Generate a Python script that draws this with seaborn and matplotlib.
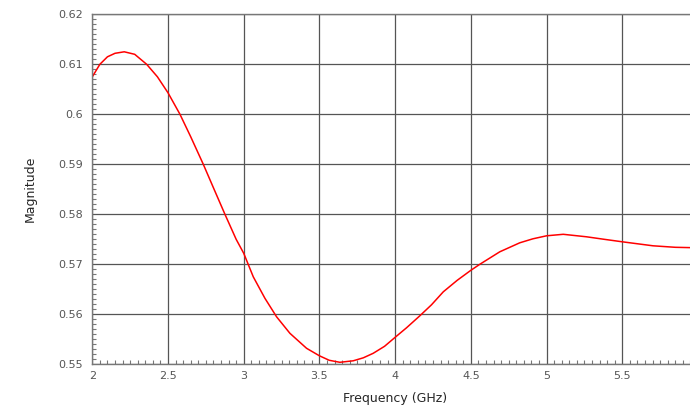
import seaborn as sns
import pandas as pd
import matplotlib.pyplot as plt
from matplotlib.ticker import MultipleLocator

# 주파수(GHz)와 크기(Magnitude) 값 - 그림에서 읽은 값
freq = [2.00, 2.05, 2.10, 2.15, 2.211, 2.28, 2.359, 2.43, 2.50, 2.579,
        2.65, 2.733, 2.80, 2.876, 2.95, 3.00, 3.063, 3.14, 3.217, 3.305,
        3.415, 3.50, 3.565, 3.635, 3.723, 3.79, 3.855, 3.93, 4.00, 4.075,
        4.163, 4.24, 4.318, 4.41, 4.50, 4.559, 4.691, 4.823, 4.91, 5.00,
        5.11, 5.264, 5.38, 5.50, 5.703, 5.85, 6.00]
magnitude = [0.6075, 0.6100, 0.6115, 0.6122, 0.6125, 0.6120, 0.6100, 0.6075, 0.6043, 0.6000,
             0.5955, 0.5900, 0.5853, 0.5800, 0.5750, 0.5722, 0.5675, 0.5632, 0.5595, 0.5562,
             0.5532, 0.5517, 0.5508, 0.5504, 0.5507, 0.5513, 0.5522, 0.5536, 0.5554, 0.5573,
             0.5597, 0.5619, 0.5645, 0.5668, 0.5688, 0.5700, 0.5725, 0.5743, 0.5751, 0.5757,
             0.5760, 0.5755, 0.5750, 0.5745, 0.5737, 0.5734, 0.5733]

x_ticks = [2, 2.5, 3, 3.5, 4, 4.5, 5, 5.5, 6]
x_labels = ['2', '2.5', '3', '3.5', '4', '4.5', '5', '5.5', '6']
y_ticks = [0.55, 0.56, 0.57, 0.58, 0.59, 0.6, 0.61, 0.62]
y_labels = ['0.55', '0.56', '0.57', '0.58', '0.59', '0.6', '0.61', '0.62']


def main():
    sns.set_style('white')
    plt.rcParams['font.family'] = ['DejaVu Sans']

    df = pd.DataFrame({'freq': freq, 'mag': magnitude})

    fig = plt.figure(figsize=(6.9, 4.12), dpi=100)
    # 오른쪽 끝(6 GHz)은 그림 밖으로 살짝 잘림 (원본과 동일)
    ax = fig.add_axes([92.3 / 690, 47.7 / 412, (698 - 92.3) / 690, 350 / 412])

    sns.lineplot(data=df, x='freq', y='mag', color='#ff0000', linewidth=1.1, ax=ax)

    ax.set_xlim(2, 6)
    ax.set_ylim(0.55, 0.62)
    ax.set_xticks(x_ticks)
    ax.set_xticklabels(x_labels)
    ax.set_yticks(y_ticks)
    ax.set_yticklabels(y_labels)
    ax.xaxis.set_minor_locator(MultipleLocator(0.05))
    ax.yaxis.set_minor_locator(MultipleLocator(0.001))

    ax.grid(True, which='major', color='#555555', linewidth=0.9)
    ax.tick_params(which='major', direction='in', length=0, labelsize=8,
                   labelcolor='#555555')
    ax.tick_params(axis='y', which='major', pad=7)
    ax.tick_params(axis='x', which='major', pad=5)
    ax.tick_params(which='minor', direction='in', length=3, color='#777777', width=0.8)
    ax.tick_params(axis='x', which='minor', bottom=True)
    ax.tick_params(axis='y', which='minor', left=True)

    for side in ['left', 'bottom', 'top', 'right']:
        ax.spines[side].set_color('#777777')
        ax.spines[side].set_linewidth(1.0)

    ax.set_xlabel('Frequency (GHz)', fontsize=9, va='center')
    ax.xaxis.set_label_coords(0.5, -34 / 350)
    ax.set_ylabel('Magnitude', fontsize=9, va='center')
    ax.yaxis.set_label_coords(-62 / 605.7, 0.5)

    fig.savefig('out.png', dpi=100)
    plt.close(fig)


if __name__ == '__main__':
    main()
